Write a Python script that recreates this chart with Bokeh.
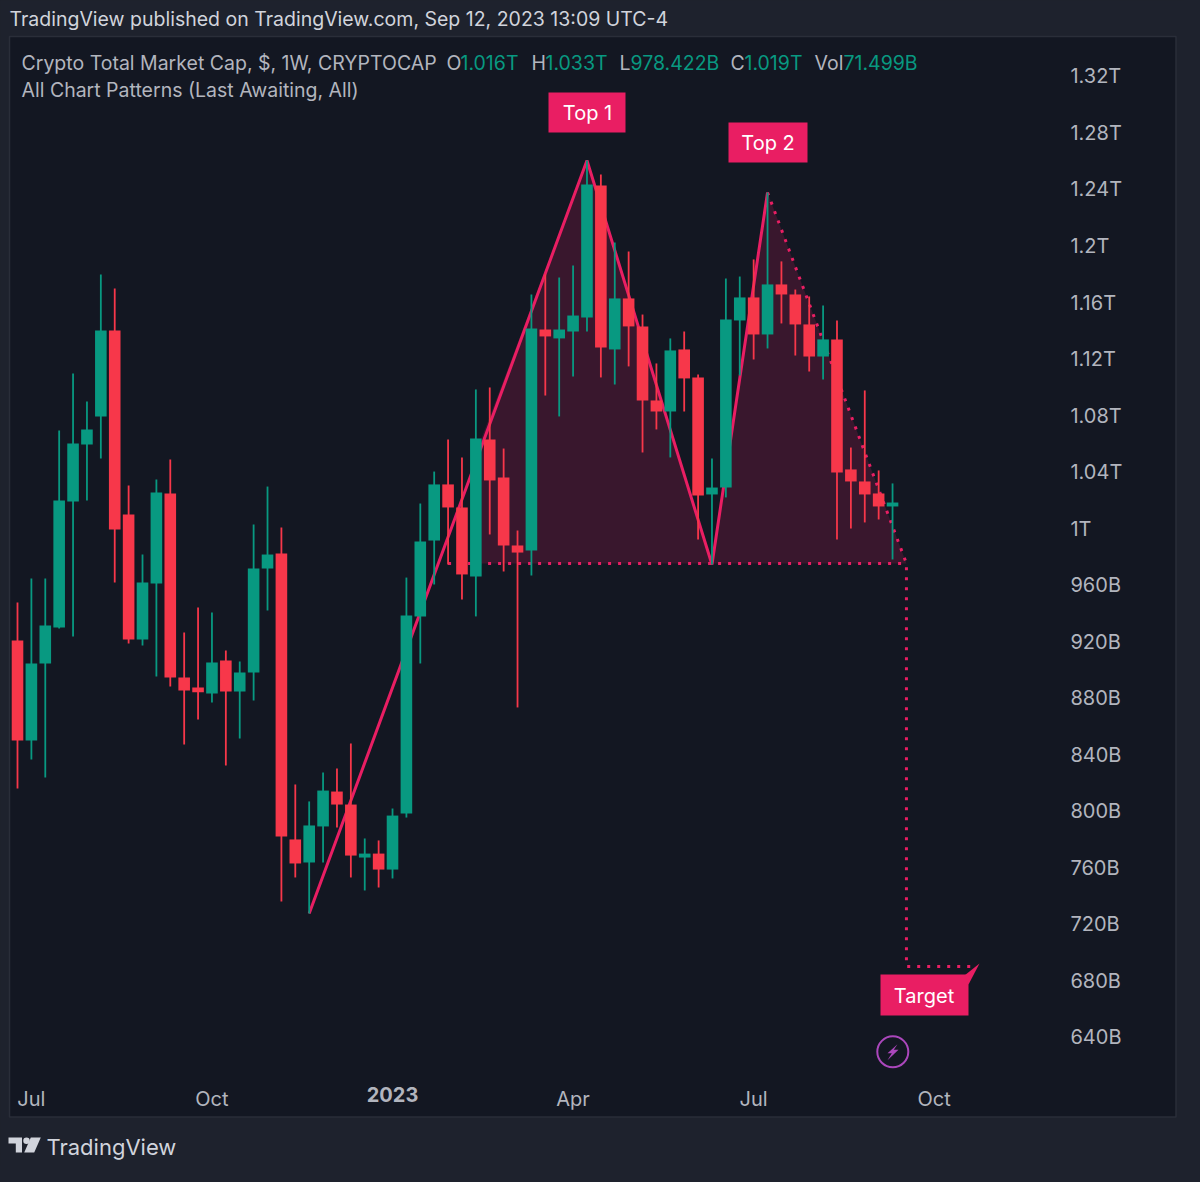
from bokeh.embed import file_html
from bokeh.resources import INLINE
from bokeh.plotting import figure
from bokeh.models import Range1d, LinearAxis, FixedTicker, Label, ColumnDataSource

# ---- data (prices in billions of USD, one row per week) ----
highs = [947.8,964.7,964.7,1069.5,1109.8,1090.0,1179.9,1170.0,1030.6,981.7,1034.8,1049.0,926.5,944.2,940.7,913.8,
         906.0,1003.0,1029.8,1000.8,819.0,807.0,827.5,830.3,848.0,780.8,779.4,802.0,965.4,1017.8,1040.4,1063.1,
         1050.4,1098.5,1099.9,1056.7,998.7,1165.7,1179.9,1177.7,1186.2,1260.5,1250.6,1202.5,1196.1,1151.5,1116.9,1134.6,
         1139.5,1109.1,1049.7,1177.0,1178.4,1190.5,1237.9,1189.1,1169.2,1164.3,1157.9,1147.3,1057.4,1097.8,1041.2,1032.0]
lows = [816.1,836.7,824.0,929.4,923.7,1020.0,1049.7,961.9,918.8,917.3,895.4,888.3,847.3,865.0,877.0,832.4,
        851.5,878.4,942.1,736.2,753.2,727.7,763.8,788.6,753.2,744.0,746.1,752.5,795.6,904.6,960.5,974.6,
        949.9,937.9,995.9,969.7,873.5,966.9,1094.2,1079.4,1107.7,1139.5,1107.0,1102.0,1114.8,1053.9,1070.2,1050.4,
        1082.9,992.3,974.6,1022.1,1108.4,1119.7,1127.5,1145.2,1122.5,1111.2,1105.6,992.3,1000.1,1004.4,1006.5,978.2]
opens = [920.9,850.1,904.6,930.1,1019.2,1059.6,1079.4,1140.2,1010.0,921.6,961.2,1024.9,894.7,887.6,883.4,906.7,
         884.8,898.2,971.8,982.4,780.1,763.8,789.3,814.0,804.8,767.3,770.1,758.8,798.4,937.9,991.6,1031.3,
         1015.0,966.2,1063.1,1036.2,988.1,984.6,1140.9,1134.6,1139.5,1149.4,1242.8,1126.8,1162.9,1143.1,1090.7,1082.9,
         1126.8,1107.0,1024.2,1029.1,1147.3,1163.6,1137.4,1172.8,1165.7,1144.5,1121.8,1133.9,1041.9,1033.4,1024.9,1015.7]
closes = [850.1,904.6,931.5,1020.0,1060.3,1070.2,1140.2,999.4,921.6,961.9,1025.6,894.7,885.5,884.2,905.3,884.8,
          898.2,971.8,981.7,782.2,763.1,790.0,814.7,804.8,768.7,770.1,758.8,797.0,938.6,990.9,1031.3,1015.0,
          967.6,1063.8,1034.1,988.1,983.1,1141.6,1136.0,1140.9,1150.8,1243.5,1128.2,1162.9,1143.1,1090.7,1082.9,1126.1,
          1106.3,1023.5,1029.1,1148.0,1163.6,1137.4,1172.8,1165.7,1144.5,1121.8,1133.9,1039.8,1033.4,1024.2,1015.7,1018.5]
weeks = list(range(len(opens)))

price_ticks = [640,680,720,760,800,840,880,920,960,1000,1040,1080,1120,1160,1200,1240,1280,1320]
price_labels = ["640B","680B","720B","760B","800B","840B","880B","920B","960B","1T","1.04T","1.08T","1.12T","1.16T","1.2T","1.24T","1.28T","1.32T"]
month_ticks = [1,14,40,53,66]
month_labels = ["Jul","Oct","Apr","Jul","Oct"]
year_ticks = [27]
year_labels = ["2023"]

zigzag_weeks = [21,41,50,54]
zigzag_prices = [727.7,1260.5,974.6,1237.9]
fill_weeks = [33.4,41,50,54,64]
fill_tops = [1063.8,1260.5,974.6,1237.9,975.4]
neck_weeks = [31,64]
neck_prices = [975.4,975.4]
target_weeks = [54,64,64,68.8]
target_prices = [1237.9,975.4,690.2,690.2]

GREEN, RED, PINK = "#089981", "#f7374a", "#e91e63"
OUTER, INNER, EDGE = "#1e222d", "#131722", "#2a2e39"
FONT = "Inter"

p = figure(width=1184, height=1166, output_backend="svg", toolbar_location=None,
           x_range=Range1d(-1.224, 84.02), y_range=Range1d(548.7, 1373.7),
           x_axis_type=None, y_axis_type=None, min_border=0,
           background_fill_color=OUTER, border_fill_color=OUTER, outline_line_color=None)
p.grid.visible = False
p.extra_x_ranges["px"] = Range1d(8, 1192)
p.extra_y_ranges["px"] = Range1d(1174, 8)
PX = dict(x_range_name="px", y_range_name="px")

# panel
p.quad(left=17, right=1183.5, top=44, bottom=1124.5, fill_color=INNER, line_color=EDGE, line_width=1.5, **PX)

# pattern underneath the candles
p.varea(x=fill_weeks, y1=[neck_prices[0]] * len(fill_weeks), y2=fill_tops, fill_color=PINK, fill_alpha=0.18)
p.line(neck_weeks, neck_prices, line_color=PINK, line_width=3, line_dash=[3, 7])
p.line(target_weeks, target_prices, line_color=PINK, line_width=3, line_dash=[3, 7])
p.line(zigzag_weeks, zigzag_prices, line_color=PINK, line_width=3)

# candles
colors = [GREEN if c >= o else RED for o, c in zip(opens, closes)]
src = ColumnDataSource(dict(week=weeks, high=highs, low=lows, open=opens, close=closes, color=colors))
p.segment("week", "high", "week", "low", source=src, line_color="color", line_width=1.8)
p.vbar("week", top="open", bottom="close", width=0.835, source=src, fill_color="color", line_color=None)

# axes
def price_axis():
    a = LinearAxis(fixed_location=75.09, ticker=FixedTicker(ticks=price_ticks),
                   major_label_overrides=dict(zip(price_ticks, price_labels)),
                   axis_line_color=None, major_tick_line_color=None, minor_tick_line_color=None,
                   major_tick_in=0, major_tick_out=0, minor_tick_in=0, minor_tick_out=0,
                   major_label_standoff=10, major_label_text_color="#b2b5be",
                   major_label_text_font=FONT, major_label_text_font_size="20px")
    return a
p.add_layout(price_axis(), "right")

def time_axis(ticks, labels, style):
    return LinearAxis(fixed_location=606.7, ticker=FixedTicker(ticks=ticks),
                      major_label_overrides=dict(zip(ticks, labels)),
                      axis_line_color=None, major_tick_line_color=None, minor_tick_line_color=None,
                      major_tick_in=0, major_tick_out=0, minor_tick_in=0, minor_tick_out=0,
                      major_label_standoff=2, major_label_text_color="#b2b5be",
                      major_label_text_font=FONT, major_label_text_font_size="20px",
                      major_label_text_font_style=style)
p.add_layout(time_axis(month_ticks, month_labels, "normal"), "below")
p.add_layout(time_axis(year_ticks, year_labels, "bold"), "below")

# callouts
p.quad(left=[556,736,888], right=[633,815,976], top=[100,130,982], bottom=[140,170,1023],
       fill_color=PINK, line_color=None, **PX)
p.patch([972,987,976], [983,971,992], fill_color=PINK, line_color=None, **PX)

def text(x, y, s, color="#b2b5be", size=20, align="left", style="normal"):
    p.add_layout(Label(x=x, y=y, text=s, text_color=color, text_font=FONT, text_font_size=f"{size}px",
                       text_align=align, text_baseline="middle", text_font_style=style, **PX))

text(595, 120, "Top 1", "#ffffff", 20, "center")
text(775.5, 150, "Top 2", "#ffffff", 20, "center")
text(931.5, 1003, "Target", "#ffffff", 20, "center")

text(17, 26, "TradingView published on TradingView.com, Sep 12, 2023 13:09 UTC-4", "#d1d4dc", 19.5)
text(29, 70, "Crypto Total Market Cap, $, 1W, CRYPTOCAP", "#b2b5be", 19.5)
for x, s, c in [(454,"O","#b2b5be"),(468,"1.016T",GREEN),(539,"H","#b2b5be"),(553,"1.033T",GREEN),
                (627,"L","#b2b5be"),(638,"978.422B",GREEN),(738,"C","#b2b5be"),(752,"1.019T",GREEN),
                (822,"Vol","#b2b5be"),(851,"71.499B",GREEN)]:
    text(x, 70, s, c, 19.5)
text(29, 97, "All Chart Patterns (Last Awaiting, All)", "#b2b5be", 19.5)

# lightning badge
p.scatter([900.3], [1059.3], size=31, marker="circle", fill_color=None, line_color="#ab47bc", line_width=2, **PX)
p.patch([905,895,899.3,895,906,901.3], [1051.7,1060.7,1060.7,1067.7,1057.3,1057.3], fill_color="#ab47bc", line_color=None, **PX)

# footer logo
LOGO = "#d1d4dc"
p.patch([16,29.5,29.5,23.3,23.3,16], [1145,1145,1160,1160,1151,1151], fill_color=LOGO, line_color=None, **PX)
p.scatter([34], [1148.3], size=6.5, marker="circle", fill_color=LOGO, line_color=None, **PX)
p.patch([38.3,48.3,41.7,31.7], [1145,1145,1160,1160], fill_color=LOGO, line_color=None, **PX)
text(54, 1154, "TradingView", "#d1d4dc", 22)

html = file_html(p, INLINE)
html = html.replace("<body>", f'<body style="background:{OUTER}">')
open("out.html", "w").write(html)
